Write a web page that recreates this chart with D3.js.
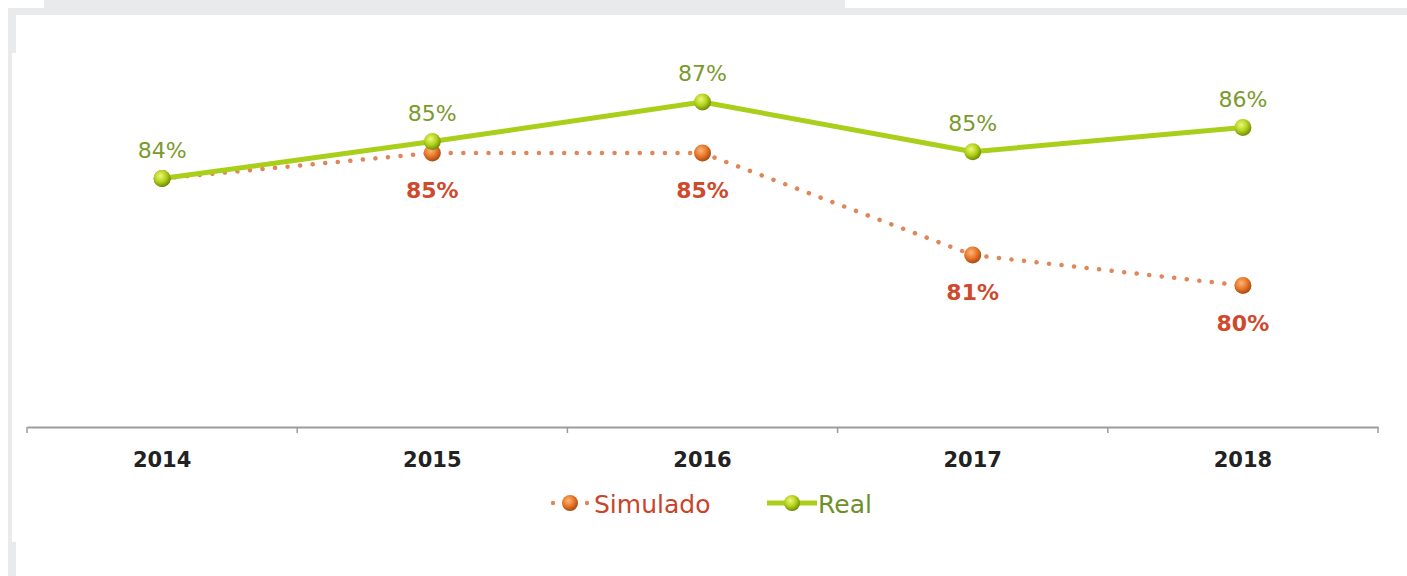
<!DOCTYPE html>
<html>
<head>
<meta charset="utf-8">
<script src="https://cdn.jsdelivr.net/npm/d3@7"></script>
<style>
html,body{margin:0;padding:0;background:#fff;}
svg{display:block;}
</style>
</head>
<body>
<svg id="chart" width="1407" height="576"></svg>
<script>
const years = ["2014","2015","2016","2017","2018"];
const realValues = [84.0, 85.45, 87.0, 85.05, 86.0];
const simuladoValues = [84.0, 85.0, 85.0, 81.0, 79.8];
const simuladoLabelShown = [false, true, true, true, true];
const seriesNames = ["Simulado", "Real"];

const svg = d3.select("#chart");
const W = 1407, H = 576;

// frame decoration
const frame = "#e9eaec";
svg.append("rect").attr("x",44).attr("y",0).attr("width",801).attr("height",8).attr("fill",frame);
svg.append("rect").attr("x",8).attr("y",8).attr("width",W-8).attr("height",7).attr("fill",frame);
svg.append("rect").attr("x",8).attr("y",8).attr("width",8).attr("height",45).attr("fill",frame);
svg.append("rect").attr("x",8).attr("y",53).attr("width",4).attr("height",490).attr("fill",frame);
svg.append("rect").attr("x",8).attr("y",542).attr("width",8).attr("height",34).attr("fill",frame);

const defs = svg.append("defs");
function grad(id, hi, mid, edge){
  const g = defs.append("radialGradient").attr("id",id)
    .attr("cx","40%").attr("cy","35%").attr("r","65%");
  g.append("stop").attr("offset","0%").attr("stop-color",hi);
  g.append("stop").attr("offset","55%").attr("stop-color",mid);
  g.append("stop").attr("offset","100%").attr("stop-color",edge);
}
grad("gGreen","#eef77a","#b2d21c","#6f8c06");
grad("gOrange","#fbb77a","#e8772a","#a9480e");

const x = d3.scaleBand().domain(years).range([27,1378]).padding(0);
const y = d3.scaleLinear().domain([74,90]).range([433.5,25.5]);
const cx = d => x(d) + x.bandwidth()/2;
const axisY = 427;

// axis
const axisG = svg.append("g").attr("transform",`translate(0,${axisY})`);
axisG.call(d3.axisBottom(x).tickSize(0).tickPadding(0));
axisG.select(".domain").attr("stroke","#9c9c9c").attr("stroke-width",2);
axisG.selectAll(".tick text")
  .attr("y",40).attr("dy",0)
  .attr("font-family","DejaVu Sans, Verdana, sans-serif")
  .attr("font-weight","bold").attr("font-size",21).attr("fill","#222");
const bounds = years.map(d=>x(d)).concat([x(years[years.length-1])+x.bandwidth()]);
axisG.selectAll(".bt").data(bounds).enter().append("line")
  .attr("x1",d=>d).attr("x2",d=>d).attr("y1",0).attr("y2",6)
  .attr("stroke","#9c9c9c").attr("stroke-width",1.5);

const line = d3.line().x((d,i)=>cx(years[i])).y(d=>y(d));

// Simulado dotted line
svg.append("path").datum(simuladoValues)
  .attr("d",line).attr("fill","none")
  .attr("stroke","#e0875a").attr("stroke-width",4.5)
  .attr("stroke-linecap","round").attr("stroke-dasharray","0.1 12.5");

// Real solid line
svg.append("path").datum(realValues)
  .attr("d",line).attr("fill","none")
  .attr("stroke","#a9cf1a").attr("stroke-width",5).attr("stroke-linejoin","round");

// markers
svg.selectAll(".ms").data(simuladoValues).enter().append("circle")
  .attr("cx",(d,i)=>cx(years[i])).attr("cy",d=>y(d)).attr("r",8.5)
  .attr("fill","url(#gOrange)");
svg.selectAll(".mr").data(realValues).enter().append("circle")
  .attr("cx",(d,i)=>cx(years[i])).attr("cy",d=>y(d)).attr("r",8.5)
  .attr("fill","url(#gGreen)");

// labels
svg.selectAll(".lr").data(realValues).enter().append("text")
  .attr("x",(d,i)=>cx(years[i])).attr("y",d=>y(d)-21)
  .attr("text-anchor","middle")
  .attr("font-family","DejaVu Sans, Verdana, sans-serif").attr("font-size",22)
  .attr("fill","#7a9a2c").text(d=>Math.round(d)+"%");
svg.selectAll(".ls").data(simuladoValues).enter().append("text")
  .filter((d,i)=>simuladoLabelShown[i])
  .attr("x",(d,i)=>cx(years[i+1])).attr("y",d=>y(d)+45)
  .attr("text-anchor","middle")
  .attr("font-family","DejaVu Sans, Verdana, sans-serif").attr("font-size",22)
  .attr("font-weight","bold")
  .attr("fill","#cf4a2c").text(d=>Math.round(d)+"%");

// legend
const lg = svg.append("g");
const ly = 503;
lg.append("circle").attr("cx",553).attr("cy",ly).attr("r",2.2).attr("fill","#e0875a");
lg.append("circle").attr("cx",587).attr("cy",ly).attr("r",2.2).attr("fill","#e0875a");
lg.append("circle").attr("cx",570).attr("cy",ly).attr("r",8).attr("fill","url(#gOrange)");
lg.append("text").attr("x",594).attr("y",ly+10)
  .attr("font-family","DejaVu Sans, Verdana, sans-serif").attr("font-size",25)
  .attr("fill","#c8442a").text(seriesNames[0]);
lg.append("line").attr("x1",767).attr("x2",817).attr("y1",ly).attr("y2",ly)
  .attr("stroke","#a9cf1a").attr("stroke-width",5);
lg.append("circle").attr("cx",792).attr("cy",ly).attr("r",8).attr("fill","url(#gGreen)");
lg.append("text").attr("x",818).attr("y",ly+10)
  .attr("font-family","DejaVu Sans, Verdana, sans-serif").attr("font-size",25)
  .attr("fill","#6f8f2a").text(seriesNames[1]);
</script>
</body>
</html>
